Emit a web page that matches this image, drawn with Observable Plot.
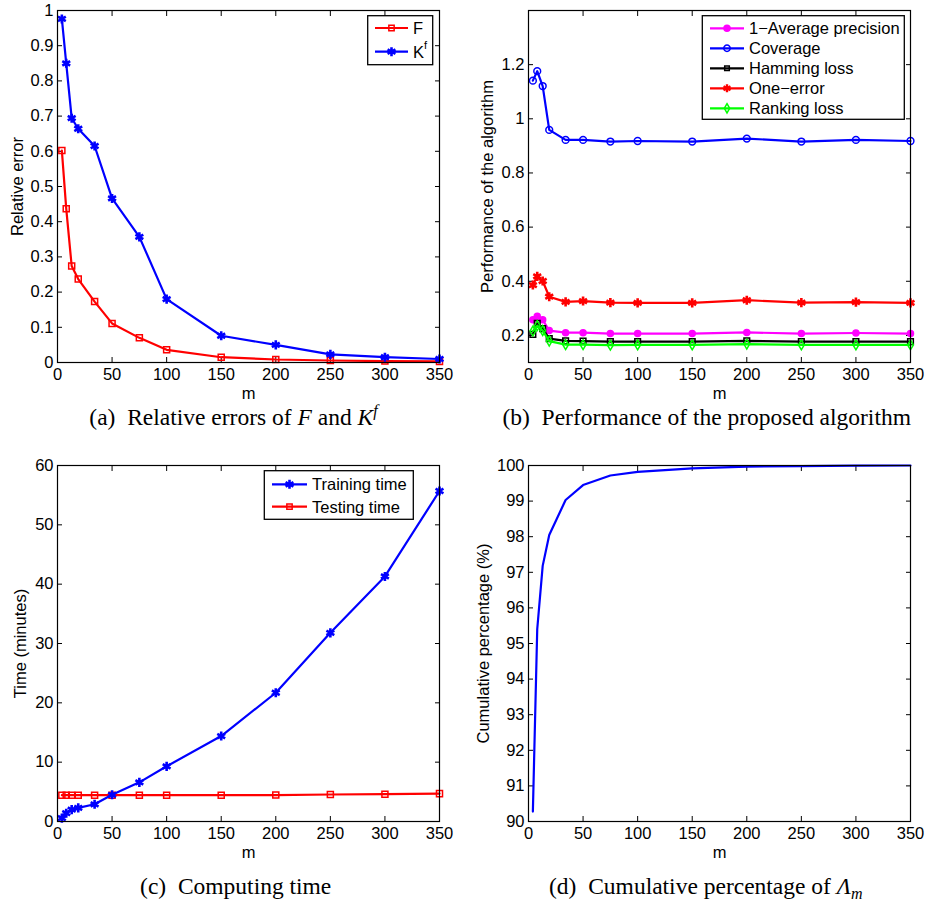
<!DOCTYPE html>
<html><head><meta charset="utf-8">
<script src="https://cdn.jsdelivr.net/npm/d3@7"></script>
<script src="https://cdn.jsdelivr.net/npm/@observablehq/plot@0.6"></script>
<style>
body{margin:0;background:#fff;}
#wrap{position:relative;width:930px;height:903px;background:#fff;overflow:hidden}
#wrap > svg.panel{position:absolute}
#wrap > svg.panel text{font-family:'Liberation Sans', Arial, Helvetica, sans-serif !important;font-size:16.5px !important;fill:#000}
#overlay{position:absolute;left:0;top:0;pointer-events:none}
</style></head><body><div id="wrap"></div>
<script>
// ---------- data ----------
const m = [4, 8, 13, 19, 34, 50, 75, 100, 150, 200, 250, 300, 350];
const xTicks = [0, 50, 100, 150, 200, 250, 300, 350];

// (a) relative errors
const relErrF  = [0.602, 0.437, 0.274, 0.237, 0.173, 0.111, 0.070, 0.036, 0.015, 0.0085, 0.0057, 0.004, 0.003];
const relErrKf = [0.976, 0.850, 0.694, 0.664, 0.615, 0.466, 0.357, 0.180, 0.076, 0.050, 0.023, 0.015, 0.010];
const ticksA = [0, 0.1, 0.2, 0.3, 0.4, 0.5, 0.6, 0.7, 0.8, 0.9, 1];

// (b) performance
const avgPrec   = [0.258, 0.271, 0.258, 0.218, 0.210, 0.210, 0.207, 0.207, 0.207, 0.211, 0.207, 0.209, 0.207];
const coverage  = [1.141, 1.176, 1.121, 0.959, 0.922, 0.922, 0.916, 0.918, 0.916, 0.927, 0.916, 0.922, 0.918];
const hamming   = [0.204, 0.245, 0.225, 0.188, 0.180, 0.179, 0.177, 0.177, 0.177, 0.180, 0.177, 0.177, 0.177];
const oneError  = [0.386, 0.418, 0.401, 0.343, 0.324, 0.327, 0.321, 0.320, 0.320, 0.330, 0.321, 0.323, 0.320];
const rankLoss  = [0.216, 0.236, 0.218, 0.179, 0.166, 0.166, 0.164, 0.165, 0.165, 0.168, 0.165, 0.165, 0.165];
const ticksB = [0.2, 0.4, 0.6, 0.8, 1, 1.2];

// (c) computing time
const trainTime = [0.56, 1.4, 2.0, 2.3, 2.9, 4.5, 6.6, 9.3, 14.4, 21.7, 31.8, 41.3, 55.7];
const testTime  = [4.43, 4.43, 4.43, 4.43, 4.43, 4.43, 4.43, 4.43, 4.43, 4.45, 4.55, 4.6, 4.7];
const ticksC = [0, 10, 20, 30, 40, 50, 60];

// (d) cumulative percentage
const cumPct = [90.28, 95.4, 97.18, 98.05, 99.03, 99.45, 99.72, 99.82, 99.92, 99.97, 99.985, 99.995, 100];
const ticksD = [90, 91, 92, 93, 94, 95, 96, 97, 98, 99, 100];

// ---------- styling ----------
const FONT = "'Liberation Sans', Arial, Helvetica, sans-serif";
const SERIF = "'Liberation Serif', 'Times New Roman', serif";
const RED = "#ff0000", BLUE = "#0000ff", MAG = "#ff00ff", GRN = "#00ff00", BLK = "#000000";
const LW = 2.2;

const wrap = document.getElementById("wrap");

function panel({left, top, height, ml, mr, mt, mb, yDomain, yTicks, yLabel, yLabelDx, marks}) {
  const svg = Plot.plot({
    width: 465, height,
    marginLeft: ml, marginRight: mr, marginTop: mt, marginBottom: mb,
    style: {fontFamily: FONT, fontSize: "16.5px", color: "#000", background: "transparent", overflow: "visible"},
    x: {domain: [0, 350]},
    y: {domain: yDomain},
    marks: [
      Plot.axisX(xTicks, {anchor: "bottom", tickSize: 0, tickPadding: 6, label: null}),
      Plot.axisX(xTicks, {anchor: "bottom", tickSize: -5, tickFormat: () => "", label: null}),
      Plot.axisX(xTicks, {anchor: "top", tickSize: -5, tickFormat: () => "", label: null}),
      Plot.axisY(yTicks, {anchor: "left", tickSize: 0, tickPadding: 4, label: null, tickFormat: d => String(d)}),
      Plot.axisY(yTicks, {anchor: "left", tickSize: -5, tickFormat: () => "", label: null}),
      Plot.axisY(yTicks, {anchor: "right", tickSize: -5, tickFormat: () => "", label: null}),
      ...marks,
      Plot.frame({stroke: "#000", strokeWidth: 1.2}),
      Plot.text(["m"], {text: d => d, frameAnchor: "bottom", dy: 36, lineAnchor: "bottom", textAnchor: "middle"}),
      Plot.text([yLabel], {text: d => d, frameAnchor: "left", rotate: -90, dx: yLabelDx, textAnchor: "middle", lineAnchor: "middle"})
    ]
  });
  svg.classList.add("panel");
  svg.style.left = left + "px";
  svg.style.top = top + "px";
  wrap.appendChild(svg);
}

function series(ys, color, symbol, r, opts = {}) {
  return [
    Plot.line(ys, {x: m, y: ys, stroke: color, strokeWidth: LW}),
    Plot.dot(ys, {x: m, y: ys, symbol, r, stroke: color, strokeWidth: opts.sw ?? 1.5,
                  fill: opts.fill ?? "none"})
  ];
}

// (a)
panel({left: 0, top: 0, height: 405, ml: 57, mr: 26, mt: 10, mb: 43,
  yDomain: [0, 1], yTicks: ticksA, yLabel: "Relative error", yLabelDx: -40,
  marks: [
    ...series(relErrF, RED, "square", 3.4),
    ...series(relErrKf, BLUE, "asterisk", 4.3, {sw: 2.6})
  ]});

// (b)
panel({left: 465, top: 0, height: 405, ml: 63, mr: 20, mt: 10, mb: 43,
  yDomain: [0.1, 1.4], yTicks: ticksB, yLabel: "Performance of the algorithm", yLabelDx: -41,
  marks: [
    ...series(avgPrec, MAG, "circle", 3, {fill: MAG}),
    ...series(coverage, BLUE, "circle", 3.4),
    ...series(hamming, BLK, "square", 3.2),
    ...series(oneError, RED, "asterisk", 4.3, {sw: 2.6}),
    ...series(rankLoss, GRN, "diamond", 3)
  ]});

// (c)
panel({left: 0, top: 440, height: 425, ml: 57, mr: 26, mt: 25, mb: 44,
  yDomain: [0, 60], yTicks: ticksC, yLabel: "Time (minutes)", yLabelDx: -37,
  marks: [
    ...series(testTime, RED, "square", 3.4),
    ...series(trainTime, BLUE, "asterisk", 4.3, {sw: 2.6})
  ]});

// (d)
panel({left: 465, top: 440, height: 425, ml: 63, mr: 20, mt: 25, mb: 44,
  yDomain: [90, 100], yTicks: ticksD, yLabel: "Cumulative percentage (%)", yLabelDx: -45,
  marks: [
    Plot.line(cumPct, {x: m, y: cumPct, stroke: BLUE, strokeWidth: LW})
  ]});

// ---------- legends and captions (overlay) ----------
const ov = d3.select(wrap).append("svg").attr("id", "overlay")
  .attr("width", 930).attr("height", 903)
  .style("font-family", FONT).style("font-size", "16.5px");

const symMap = {square: d3.symbolSquare, circle: d3.symbolCircle, asterisk: d3.symbolAsterisk, diamond: d3.symbolDiamond};

function legend(x, y, w, h, rows, lineX0, lineX1, textX, rowY0, rowStep) {
  const g = ov.append("g");
  g.append("rect").attr("x", x).attr("y", y).attr("width", w).attr("height", h)
    .attr("fill", "#fff").attr("stroke", "#000").attr("stroke-width", 1.3);
  rows.forEach((r, i) => {
    const cy = rowY0 + i * rowStep;
    g.append("line").attr("x1", lineX0).attr("x2", lineX1).attr("y1", cy).attr("y2", cy)
      .attr("stroke", r.color).attr("stroke-width", LW);
    g.append("path")
      .attr("d", d3.symbol(symMap[r.symbol], Math.PI * r.r * r.r)())
      .attr("transform", `translate(${(lineX0 + lineX1) / 2},${cy})`)
      .attr("fill", r.fill ?? "none").attr("stroke", r.color).attr("stroke-width", r.sw ?? 1.5);
    const t = g.append("text").attr("x", textX).attr("y", cy).attr("dy", "0.36em").attr("fill", "#000");
    t.append("tspan").text(r.label);
    if (r.sup) t.append("tspan").attr("font-size", "11px").attr("dy", "-0.8em").text(r.sup);
  });
}

legend(367.7, 15.7, 65, 49, [
  {label: "F", color: RED, symbol: "square", r: 3},
  {label: "K", sup: "f", color: BLUE, symbol: "asterisk", r: 4.3, sw: 2.6}
], 375, 408, 413, 28, 23.7);

legend(702.3, 15.7, 202, 103.6, [
  {label: "1\u2212Average precision", color: MAG, symbol: "circle", r: 3, fill: MAG},
  {label: "Coverage", color: BLUE, symbol: "circle", r: 3.2},
  {label: "Hamming loss", color: BLK, symbol: "square", r: 2.6},
  {label: "One\u2212error", color: RED, symbol: "asterisk", r: 3.8, sw: 2.4},
  {label: "Ranking loss", color: GRN, symbol: "diamond", r: 2.8}
], 710, 744, 749, 28.3, 20);

legend(264.3, 470.7, 149, 48.6, [
  {label: "Training time", color: BLUE, symbol: "asterisk", r: 4.3, sw: 2.6},
  {label: "Testing time", color: RED, symbol: "square", r: 3}
], 272, 307, 312, 484.3, 22.4);

function caption(x, y, parts) {
  const t = ov.append("text").attr("x", x).attr("y", y).attr("text-anchor", "middle")
    .style("font-family", SERIF).style("font-size", "23.5px").attr("fill", "#000");
  parts.forEach(p => {
    const s = t.append("tspan").text(p.t);
    if (p.i) s.attr("font-style", "italic");
    if (p.dy) s.attr("dy", p.dy);
    if (p.fs) s.attr("font-size", p.fs);
  });
}

caption(233.5, 425, [{t: "(a)\u2002Relative errors of "}, {t: "F", i: 1}, {t: " and "}, {t: "K", i: 1}, {t: "f", i: 1, dy: -9, fs: "16px"}]);
caption(706.7, 425, [{t: "(b)\u2002Performance of the proposed algorithm"}]);
caption(235.7, 894, [{t: "(c)\u2002Computing time"}]);
caption(705.8, 894, [{t: "(d)\u2002Cumulative percentage of "}, {t: "\u039B", i: 1}, {t: "m", i: 1, dy: 5, fs: "16px"}]);
</script></body></html>
